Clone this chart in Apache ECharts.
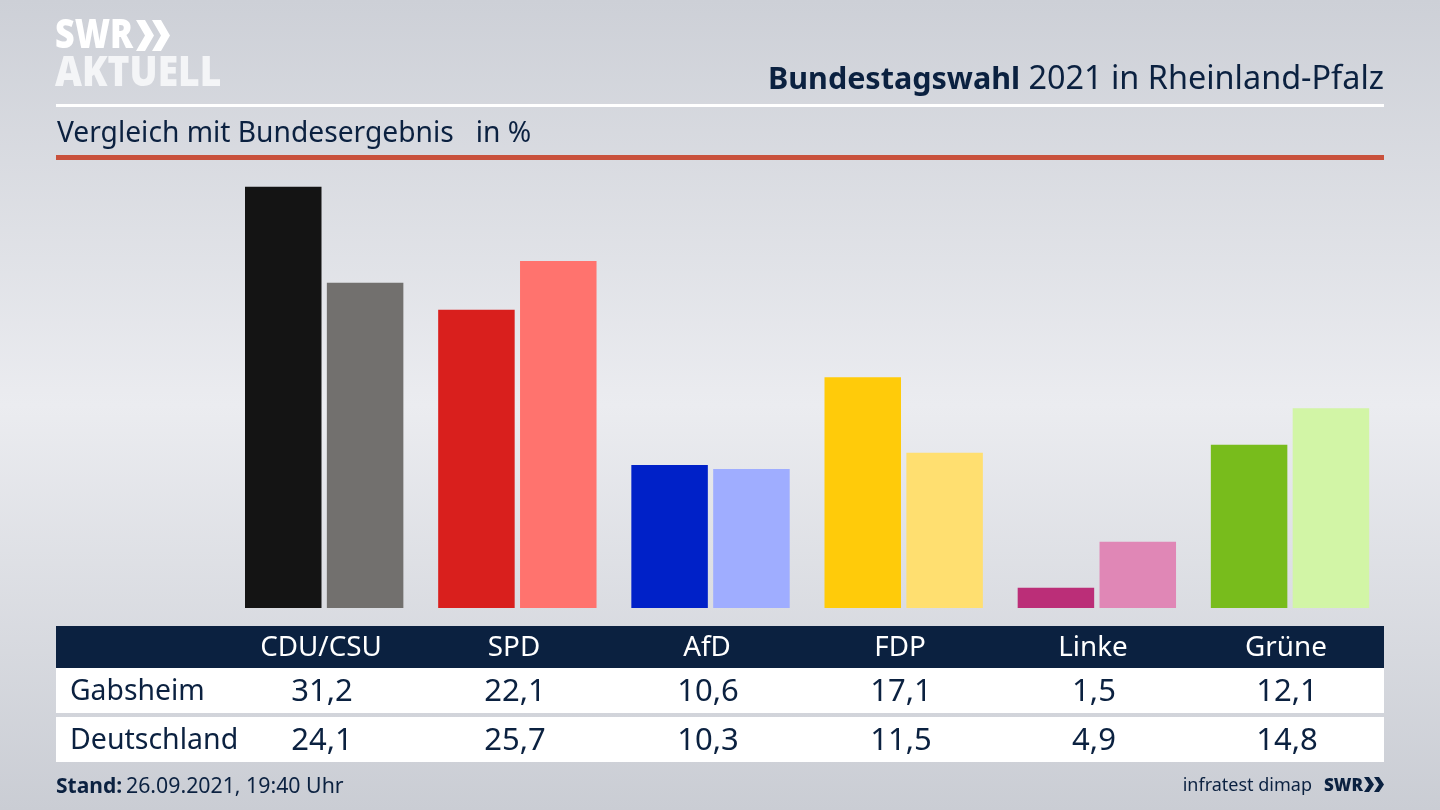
<!DOCTYPE html>
<html>
<head>
<meta charset="utf-8">
<title>Bundestagswahl 2021</title>
<script src="https://cdn.jsdelivr.net/npm/echarts@6/dist/echarts.min.js"></script>
<style>
html, body { margin: 0; padding: 0; background: #d5d7dd; }
#chart { width: 1440px; height: 810px; }
</style>
</head>
<body>
<div id="chart"></div>
<script>
var parties = ['CDU/CSU', 'SPD', 'AfD', 'FDP', 'Linke', 'Grüne'];
var gabsheim = [31.2, 22.1, 10.6, 17.1, 1.5, 12.1];
var deutschland = [24.1, 25.7, 10.3, 11.5, 4.9, 14.8];
var gabsheimColors = ['#141414', '#d91f1d', '#0021c8', '#ffcb0a', '#bb2e78', '#78bc1c'];
var deutschlandColors = ['#72706e', '#ff736e', '#9fadff', '#ffdf70', '#e087b6', '#d2f5a6'];

var navy = '#0b2140';
var fontName = '"Noto Sans", sans-serif';

function coloured(values, colors) {
    return values.map(function (v, i) {
        return { value: v, itemStyle: { color: colors[i] } };
    });
}
function label(text) {
    return String(text.toFixed(1)).replace('.', ',');
}
function txt(x, y, text, size, color, align, weight, scaleX) {
    return {
        type: 'text', z: 10, x: x, y: y, scaleX: scaleX || 1,
        style: {
            text: text, fontSize: size, fill: color, fontFamily: fontName,
            align: align || 'left', verticalAlign: 'middle', fontWeight: weight || 'normal'
        }
    };
}
function box(x, y, w, h, color) {
    return { type: 'rect', z: 5, shape: { x: x, y: y, width: w, height: h }, style: { fill: color } };
}
function chevron(x, y, w, h, color) {
    // one arrow of the logo
    return {
        type: 'polygon', z: 10,
        shape: { points: [[x, y], [x + w * 0.5, y], [x + w, y + h / 2], [x + w * 0.5, y + h], [x, y + h], [x + w * 0.5, y + h / 2]] },
        style: { fill: color }
    };
}

var graphics = [
    // kopf
    txt(55, 36, 'SWR', 41, '#ffffff', 'left', 900, 0.83),
    chevron(136, 20, 18, 31, '#ffffff'),
    chevron(152, 20, 18, 31, '#ffffff'),
    txt(55, 74, 'AKTUELL', 42, '#f4f5f7', 'left', 900, 0.885),
    box(56, 104, 1328, 3, '#ffffff'),
    box(56, 155, 1328, 5, '#c9513c'),
    txt(57, 134, 'Vergleich mit Bundesergebnis   in %', 28.2, navy),
    {
        type: 'text', z: 10, x: 1384, y: 80,
        style: {
            text: '{b|Bundestagswahl}{n| 2021 in Rheinland-Pfalz}',
            align: 'right', verticalAlign: 'middle',
            rich: {
                b: { fontSize: 30.5, fontWeight: 'bold', fill: navy, fontFamily: fontName },
                n: { fontSize: 32.4, fill: navy, fontFamily: fontName }
            }
        }
    },
    // tabelle
    box(56, 626, 1328, 42, navy),
    box(56, 668, 1328, 45, '#ffffff'),
    box(56, 717, 1328, 45, '#ffffff'),
    txt(70, 692, 'Gabsheim', 28.3, navy),
    txt(70, 741, 'Deutschland', 28.5, navy),
    // fuss
    txt(56, 787, 'Stand:', 21, navy, 'left', 'bold'),
    txt(126, 787, '26.09.2021, 19:40 Uhr', 21.3, navy),
    txt(1312, 786, 'infratest dimap', 18, navy, 'right'),
    txt(1324, 786, 'SWR', 17, navy, 'left', 900),
    chevron(1364, 777, 10, 15, navy),
    chevron(1374, 777, 10, 15, navy)
];
parties.forEach(function (p, i) {
    var cx = 322 + i * 193;
    graphics.push(txt(cx - 1, 648, p, 27.8, '#ffffff', 'center'));
    graphics.push(txt(cx, 692, label(gabsheim[i]), 31, navy, 'center'));
    graphics.push(txt(cx, 741, label(deutschland[i]), 31, navy, 'center'));
});

var myChart = echarts.init(document.getElementById('chart'));
var option = {
    animation: false,
    backgroundColor: {
        type: 'linear', x: 0, y: 0, x2: 0, y2: 1,
        colorStops: [
            { offset: 0, color: '#cdd0d7' },
            { offset: 0.5, color: '#ebecf0' },
            { offset: 1, color: '#cacdd4' }
        ]
    },
    grid: { left: 227.6, top: 176, width: 1159, height: 432 },
    xAxis: {
        type: 'category', data: parties,
        axisLine: { show: false }, axisTick: { show: false }, axisLabel: { show: false }
    },
    yAxis: {
        type: 'value', min: 0, max: 32,
        axisLine: { show: false }, axisTick: { show: false }, axisLabel: { show: false }, splitLine: { show: false }
    },
    series: [
        { name: 'Gabsheim', type: 'bar', barWidth: 76.5, barGap: '7%', data: coloured(gabsheim, gabsheimColors) },
        { name: 'Deutschland', type: 'bar', barWidth: 76.5, barGap: '7%', data: coloured(deutschland, deutschlandColors) }
    ],
    graphic: graphics
};
myChart.setOption(option);
</script>
</body>
</html>
